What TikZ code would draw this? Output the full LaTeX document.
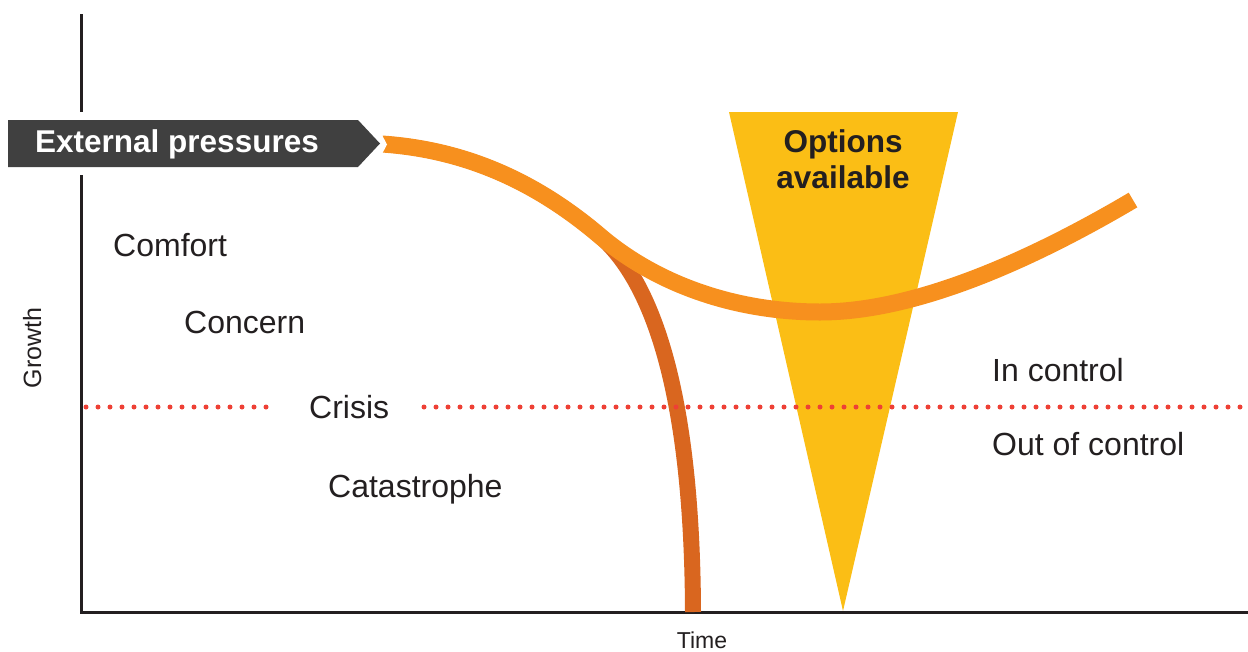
\documentclass[tikz,border=0pt]{standalone}
\usepackage{fontspec}
\setmainfont{Liberation Sans}
\definecolor{boxgray}{HTML}{404040}
\definecolor{optyellow}{HTML}{FBBE15}
\definecolor{ribbonorange}{HTML}{F7901E}
\definecolor{ribbondark}{HTML}{D9661F}
\definecolor{dotred}{HTML}{EE4035}
\definecolor{labelblack}{HTML}{231F20}
\begin{document}
\begin{tikzpicture}[x=1pt,y=-1pt,
  axisline/.style={draw=labelblack,line width=3pt},
  orangerib/.style={draw=ribbonorange,line width=17pt},
  darkrib/.style={draw=ribbondark,line width=16pt},
  dotline/.style={draw=dotred,line width=5pt,line cap=round,dash pattern=on 0pt off 12pt},
  lbl/.style={font=\fontsize{32}{36}\selectfont,text=labelblack,inner sep=0pt,anchor=base west},
  axlbl/.style={font=\fontsize{23}{26}\selectfont,text=labelblack,inner sep=0pt},
  boldlbl/.style={font=\fontsize{31.5}{36}\selectfont\bfseries,inner sep=0pt}]
\useasboundingbox (0,0) rectangle (1248,651);
% options triangle
\fill[optyellow] (729,112) -- (958,112) -- (843,611) -- cycle;
% axes
\draw[axisline] (81,14) -- (81,112);
\draw[axisline] (81,175) -- (81,612) -- (1248,612);
% key points of the ribbons
\coordinate (start) at (382,144);
\coordinate (split) at (600,236);
\coordinate (low) at (820,312);
\coordinate (rise) at (1133,200);
\coordinate (bottom) at (693,612);
% dark ribbon (falling)
\draw[darkrib] (start) .. controls (470,150) and (540,185) .. (split)
  .. controls (640,271) and (692,360) .. (bottom);
% orange ribbon (recovering)
\draw[orangerib] (start) .. controls (470,150) and (540,185) .. (split)
  .. controls (660,287) and (740,312) .. (low)
  .. controls (920,312) and (1040,255) .. (rise);
% notch at ribbon start
\fill[white] (378,134) -- (381.5,134) -- (387,144.5) -- (381.5,155) -- (378,155) -- cycle;
% external pressures arrow box
\fill[boxgray] (8,120) -- (358,120) -- (380,143.5) -- (358,167) -- (8,167) -- cycle;
\node[boldlbl,text=white,anchor=base west] (ext) at (35,152) {External pressures};
% dotted threshold
\coordinate (d1) at (86,407);
\coordinate (d2) at (276,407);
\coordinate (d3) at (424,407);
\coordinate (d4) at (1248,407);
\draw[dotline] (d1) -- (d2);
\draw[dotline] (d3) -- (d4);
% options label
\node[boldlbl,text=labelblack,anchor=base] (opt1) at (843,152) {Options};
\node[boldlbl,text=labelblack,anchor=base] (opt2) at (843,188) {available};
% zone labels
\node[lbl] (comfort) at (113,256) {Comfort};
\node[lbl] (concern) at (184,333) {Concern};
\node[lbl] (crisis) at (309,418) {Crisis};
\node[lbl] (cat) at (328,497) {Catastrophe};
\node[lbl] (inctl) at (992,381) {In control};
\node[lbl] (outctl) at (992,455) {Out of control};
% axis labels
\node[axlbl,anchor=base] (time) at (702,648) {Time};
\node[axlbl,font=\fontsize{25}{27}\selectfont,rotate=90,anchor=base] (growth) at (41,348) {Growth};
\end{tikzpicture}
\end{document}
